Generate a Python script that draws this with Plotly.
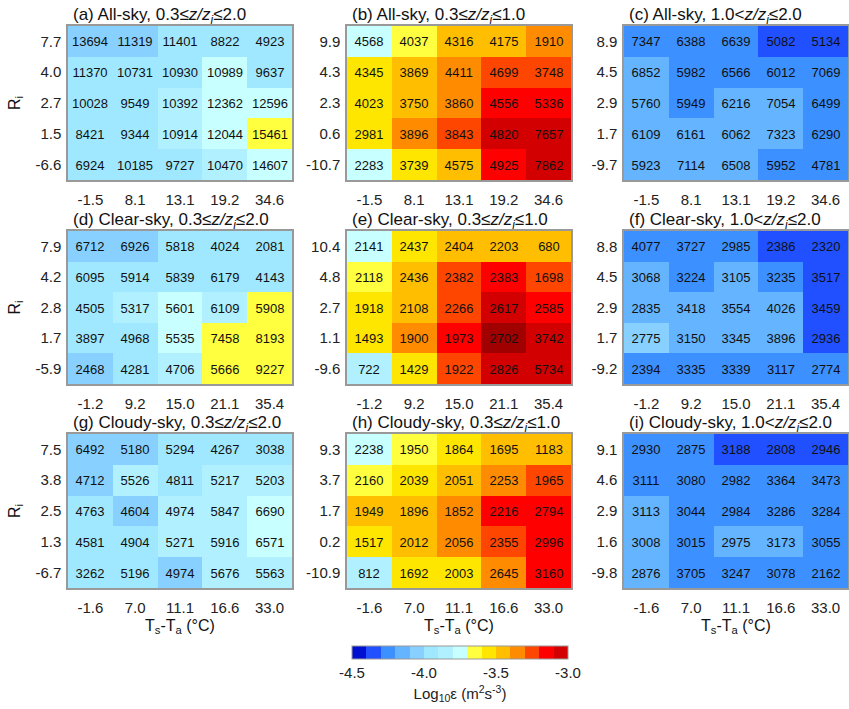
import plotly.graph_objects as go

# ---------------- data ----------------
x_a = ['-1.5', '8.1', '13.1', '19.2', '34.6']
x_d = ['-1.2', '9.2', '15.0', '21.1', '35.4']
x_g = ['-1.6', '7.0', '11.1', '16.6', '33.0']

y_a = ['7.7', '4.0', '2.7', '1.5', '-6.6']
y_b = ['9.9', '4.3', '2.3', '0.6', '-10.7']
y_c = ['8.9', '4.5', '2.9', '1.7', '-9.7']
y_d = ['7.9', '4.2', '2.8', '1.7', '-5.9']
y_e = ['10.4', '4.8', '2.7', '1.1', '-9.6']
y_f = ['8.8', '4.5', '2.9', '1.7', '-9.2']
y_g = ['7.5', '3.8', '2.5', '1.3', '-6.7']
y_h = ['9.3', '3.7', '1.7', '0.2', '-10.9']
y_i = ['9.1', '4.6', '2.9', '1.6', '-9.8']

n_a = [[13694, 11319, 11401, 8822, 4923],
       [11370, 10731, 10930, 10989, 9637],
       [10028, 9549, 10392, 12362, 12596],
       [8421, 9344, 10914, 12044, 15461],
       [6924, 10185, 9727, 10470, 14607]]
n_b = [[4568, 4037, 4316, 4175, 1910],
       [4345, 3869, 4411, 4699, 3748],
       [4023, 3750, 3860, 4556, 5336],
       [2981, 3896, 3843, 4820, 7657],
       [2283, 3739, 4575, 4925, 7862]]
n_c = [[7347, 6388, 6639, 5082, 5134],
       [6852, 5982, 6566, 6012, 7069],
       [5760, 5949, 6216, 7054, 6499],
       [6109, 6161, 6062, 7323, 6290],
       [5923, 7114, 6508, 5952, 4781]]
n_d = [[6712, 6926, 5818, 4024, 2081],
       [6095, 5914, 5839, 6179, 4143],
       [4505, 5317, 5601, 6109, 5908],
       [3897, 4968, 5535, 7458, 8193],
       [2468, 4281, 4706, 5666, 9227]]
n_e = [[2141, 2437, 2404, 2203, 680],
       [2118, 2436, 2382, 2383, 1698],
       [1918, 2108, 2266, 2617, 2585],
       [1493, 1900, 1973, 2702, 3742],
       [722, 1429, 1922, 2826, 5734]]
n_f = [[4077, 3727, 2985, 2386, 2320],
       [3068, 3224, 3105, 3235, 3517],
       [2835, 3418, 3554, 4026, 3459],
       [2775, 3150, 3345, 3896, 2936],
       [2394, 3335, 3339, 3117, 2774]]
n_g = [[6492, 5180, 5294, 4267, 3038],
       [4712, 5526, 4811, 5217, 5203],
       [4763, 4604, 4974, 5847, 6690],
       [4581, 4904, 5271, 5916, 6571],
       [3262, 5196, 4974, 5676, 5563]]
n_h = [[2238, 1950, 1864, 1695, 1183],
       [2160, 2039, 2051, 2253, 1965],
       [1949, 1896, 1852, 2216, 2794],
       [1517, 2012, 2056, 2355, 2996],
       [812, 1692, 2003, 2645, 3160]]
n_i = [[2930, 2875, 3188, 2808, 2946],
       [3111, 3080, 2982, 3364, 3473],
       [3113, 3044, 2984, 3286, 3284],
       [3008, 3015, 2975, 3173, 3055],
       [2876, 3705, 3247, 3078, 2162]]

# log10(epsilon)
e_a = [[-4.05, -4.05, -3.95, -3.95, -3.95],
       [-3.95, -3.95, -3.95, -3.75, -3.95],
       [-3.95, -3.95, -3.85, -3.75, -3.75],
       [-3.95, -3.95, -3.85, -3.75, -3.65],
       [-3.95, -3.95, -3.95, -3.85, -3.75]]
e_b = [[-3.75, -3.65, -3.45, -3.45, -3.35],
       [-3.55, -3.45, -3.35, -3.25, -3.25],
       [-3.55, -3.45, -3.35, -3.15, -3.15],
       [-3.55, -3.35, -3.25, -3.05, -3.05],
       [-3.75, -3.55, -3.45, -3.15, -3.05]]
e_c = [[-4.25, -4.25, -4.25, -4.35, -4.35],
       [-4.15, -4.25, -4.25, -4.25, -4.25],
       [-4.15, -4.25, -4.15, -4.15, -4.25],
       [-4.15, -4.15, -4.15, -4.15, -4.25],
       [-4.15, -4.15, -4.15, -4.25, -4.25]]
e_d = [[-4.05, -4.05, -3.95, -3.95, -3.95],
       [-3.95, -3.95, -3.95, -3.95, -3.95],
       [-3.95, -3.85, -3.75, -3.85, -3.65],
       [-3.95, -3.95, -3.75, -3.65, -3.65],
       [-4.05, -3.95, -3.85, -3.65, -3.65]]
e_e = [[-3.75, -3.55, -3.45, -3.45, -3.45],
       [-3.65, -3.45, -3.25, -3.15, -3.25],
       [-3.55, -3.45, -3.25, -3.05, -3.15],
       [-3.55, -3.35, -3.15, -2.95, -3.05],
       [-3.85, -3.55, -3.25, -3.05, -3.05]]
e_f = [[-4.25, -4.25, -4.25, -4.35, -4.35],
       [-4.15, -4.25, -4.15, -4.25, -4.35],
       [-4.15, -4.15, -4.15, -4.15, -4.35],
       [-4.05, -4.15, -4.15, -4.15, -4.35],
       [-4.25, -4.25, -4.25, -4.25, -4.25]]
e_g = [[-4.05, -4.05, -3.95, -3.95, -3.95],
       [-4.05, -3.85, -3.95, -3.85, -3.85],
       [-3.95, -4.05, -3.85, -3.85, -3.75],
       [-3.95, -3.95, -3.85, -3.85, -3.75],
       [-3.95, -3.95, -4.05, -3.85, -3.85]]
e_h = [[-3.75, -3.65, -3.55, -3.45, -3.45],
       [-3.65, -3.55, -3.45, -3.35, -3.25],
       [-3.45, -3.45, -3.35, -3.15, -3.15],
       [-3.55, -3.45, -3.35, -3.25, -3.15],
       [-3.85, -3.55, -3.55, -3.35, -3.15]]
e_i = [[-4.25, -4.25, -4.35, -4.35, -4.35],
       [-4.25, -4.25, -4.25, -4.25, -4.25],
       [-4.15, -4.25, -4.25, -4.25, -4.25],
       [-4.15, -4.25, -4.15, -4.15, -4.25],
       [-4.15, -4.25, -4.25, -4.25, -4.25]]

titles = ['(a) All-sky, 0.3≤<i>z/z<sub>i</sub></i>≤2.0',
          '(b) All-sky, 0.3≤<i>z/z<sub>i</sub></i>≤1.0',
          '(c) All-sky, 1.0<<i>z/z<sub>i</sub></i>≤2.0',
          '(d) Clear-sky, 0.3≤<i>z/z<sub>i</sub></i>≤2.0',
          '(e) Clear-sky, 0.3≤<i>z/z<sub>i</sub></i>≤1.0',
          '(f) Clear-sky, 1.0<<i>z/z<sub>i</sub></i>≤2.0',
          '(g) Cloudy-sky, 0.3≤<i>z/z<sub>i</sub></i>≤2.0',
          '(h) Cloudy-sky, 0.3≤<i>z/z<sub>i</sub></i>≤1.0',
          '(i) Cloudy-sky, 1.0<<i>z/z<sub>i</sub></i>≤2.0']

cbar_ticks = [-4.5, -4.0, -3.5, -3.0]

# ---------------- styling ----------------
colors = ['#0010D0', '#2050FF', '#3C90FF', '#64B4FF', '#88D0FF', '#A0E8FF',
          '#B0F0FF', '#C8FFFF', '#FFFF40', '#FFE600', '#FFBE00', '#FF8C00',
          '#FF4600', '#FF0000', '#D20000', '#A00000']


def discrete(cols):
    n = len(cols)
    cs = []
    for k, c in enumerate(cols):
        cs.append([k / n, c])
        cs.append([(k + 1) / n, c])
    return cs


cs16 = discrete(colors)        # -4.5 .. -2.9
cs15 = discrete(colors[:15])   # -4.5 .. -3.0

W, H = 849, 709
FONT = 'Liberation Sans, Arial, sans-serif'

col_px = [(68, 292), (347, 571), (624, 848)]
row_px = [(26, 180), (231, 384), (434, 588)]

panels = [(n_a, e_a, x_a, y_a), (n_b, e_b, x_a, y_b), (n_c, e_c, x_a, y_c),
          (n_d, e_d, x_d, y_d), (n_e, e_e, x_d, y_e), (n_f, e_f, x_d, y_f),
          (n_g, e_g, x_g, y_g), (n_h, e_h, x_g, y_h), (n_i, e_i, x_g, y_i)]

fig = go.Figure()
layout = dict()
annotations = []

for i, (cnt, eps, xl, yl) in enumerate(panels):
    r, c = divmod(i, 3)
    sfx = '' if i == 0 else str(i + 1)
    x0, x1 = col_px[c]
    t0, t1 = row_px[r]
    fig.add_trace(go.Heatmap(
        z=eps, x=list(range(5)), y=list(range(5)), text=cnt,
        texttemplate='%{text}', textfont=dict(size=13, color='#111', family=FONT),
        colorscale=cs16, zmin=-4.5, zmax=-2.9, showscale=False,
        hoverinfo='skip', xaxis='x' + sfx, yaxis='y' + sfx))
    layout['xaxis' + sfx] = dict(
        domain=[x0 / W, x1 / W], anchor='y' + sfx, range=[-0.5, 4.5],
        tickvals=list(range(5)), ticktext=xl, showgrid=False, zeroline=False,
        showline=True, mirror=True, linecolor='#999', linewidth=1.5,
        ticks='outside', ticklen=5, tickcolor='rgba(0,0,0,0)',
        tickfont=dict(size=15, color='#222', family=FONT), fixedrange=True)
    layout['yaxis' + sfx] = dict(
        domain=[1 - t1 / H, 1 - t0 / H], anchor='x' + sfx, range=[4.5, -0.5],
        tickvals=list(range(5)), ticktext=yl, showgrid=False, zeroline=False,
        showline=True, mirror=True, linecolor='#999', linewidth=1.5,
        ticks='outside', ticklen=2, tickcolor='rgba(0,0,0,0)',
        tickfont=dict(size=15, color='#222', family=FONT), fixedrange=True)
    annotations.append(dict(
        text=titles[i], xref='paper', yref='paper', x=(x0 + 3) / W,
        y=1 - (t0 - 10) / H, xanchor='left', yanchor='middle', showarrow=False,
        font=dict(size=17, color='#111', family=FONT)))
    if c == 0:
        annotations.append(dict(
            text='R<sub>i</sub>', xref='paper', yref='paper', x=15 / W,
            y=1 - ((t0 + t1) / 2) / H, xanchor='center', yanchor='middle',
            textangle=-90, showarrow=False,
            font=dict(size=16, color='#111', family=FONT)))
    if r == 2:
        annotations.append(dict(
            text='T<sub>s</sub>-T<sub>a</sub> (°C)', xref='paper', yref='paper',
            x=((x0 + x1) / 2) / W, y=1 - 626 / H, xanchor='center',
            yanchor='middle', showarrow=False,
            font=dict(size=16, color='#111', family=FONT)))

# colour bar carrier
fig.add_trace(go.Scatter(
    x=[None], y=[None], mode='markers', showlegend=False, hoverinfo='skip',
    xaxis='x', yaxis='y',
    marker=dict(color=[-4.0], colorscale=cs15, cmin=-4.5, cmax=-3.0,
                showscale=True,
                colorbar=dict(
                    orientation='h', x=460 / W, xanchor='center',
                    y=1 - 646 / H, yanchor='top', len=216, lenmode='pixels',
                    thickness=13, thicknessmode='pixels', xpad=0, ypad=0,
                    outlinewidth=1, outlinecolor='#999',
                    tickvals=cbar_ticks, ticktext=['-4.5', '-4.0', '-3.5', '-3.0'],
                    ticks='', tickfont=dict(size=15, color='#222', family=FONT),
                    title=dict(text='Log<sub>10</sub>ε (m<sup>2</sup>s<sup>-3</sup>)',
                               side='bottom',
                               font=dict(size=15, color='#222', family=FONT))))))

fig.update_layout(width=W, height=H, margin=dict(l=0, r=0, t=0, b=0),
                  paper_bgcolor='white', plot_bgcolor='white',
                  annotations=annotations, showlegend=False,
                  font=dict(family=FONT), **layout)

fig.write_html('out.html', config={'displayModeBar': False},
               post_script="document.body.style.margin='0';"
                           "document.body.style.overflow='hidden';")
